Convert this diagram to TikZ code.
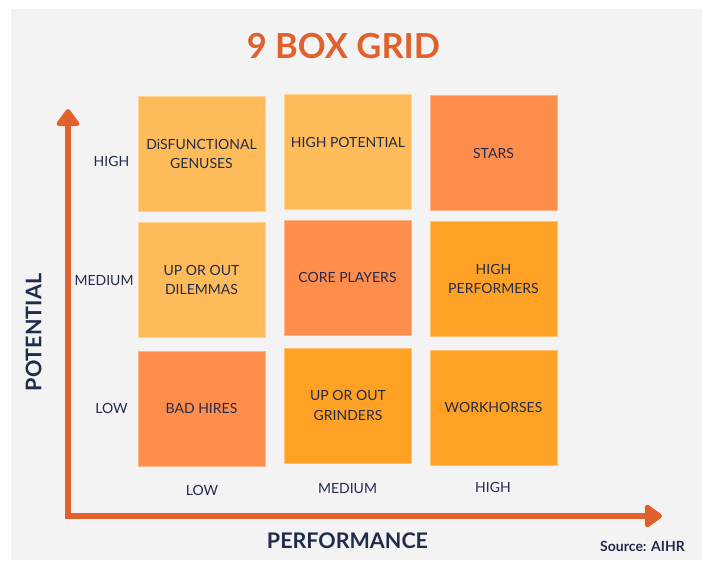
\documentclass[tikz,border=0pt]{standalone}
\usepackage{fontspec}
\setmainfont{Lato}
\usetikzlibrary{arrows.meta}
\definecolor{bggray}{HTML}{F3F3F3}
\definecolor{axisred}{HTML}{E0612D}
\definecolor{navy}{HTML}{222B4B}
\definecolor{lightor}{HTML}{FEBB5A}
\definecolor{salmon}{HTML}{FF8D4B}
\definecolor{amber}{HTML}{FFA125}
\begin{document}
\begin{tikzpicture}[x=1pt,y=-1pt,
  cell/.style={fill=#1, draw=#1!65!white, line width=0.8pt, minimum width=127pt, minimum height=115pt,
    inner sep=0pt, align=center, text=navy, font=\fontsize{14}{19.5}\selectfont},
  axislabel/.style={text=navy, font=\fontsize{14}{16}\selectfont, inner sep=0pt},
  axistitle/.style={text=navy, font=\fontsize{21.5}{24}\selectfont\bfseries, inner sep=0pt},
  axisline/.style={draw=axisred, line width=6.5pt, line join=miter,
    {Triangle[width=26pt,length=19pt,round]}-{Triangle[width=26pt,length=19pt,round]}}
]
\useasboundingbox (0,0) rectangle (702,560);
\fill[white] (0,0) rectangle (702,560);
\fill[bggray] (11,9) rectangle (702,560);

% title
\node[text=axisred, font=\fontsize{34.5}{38}\selectfont\bfseries, inner sep=0pt] (title) at (343.5,46) {9 BOX GRID};

% cells
\node[cell=lightor] (c11) at (201.5,154) {DiSFUNCTIONAL\\GENUSES};
\node[cell=lightor, text depth=19pt] (c12) at (348,151.5) {HIGH POTENTIAL};
\node[cell=salmon] (c13) at (493.5,153) {STARS};
\node[cell=lightor] (c21) at (201.5,280) {UP OR OUT\\DILEMMAS};
\node[cell=salmon] (c22) at (347.5,277.5) {CORE PLAYERS};
\node[cell=amber] (c23) at (493.5,279) {HIGH\\PERFORMERS};
\node[cell=salmon] (c31) at (201.5,408.5) {BAD HIRES};
\node[cell=amber] (c32) at (348,405.5) {UP OR OUT\\GRINDERS};
\node[cell=amber] (c33) at (493.5,407.5) {WORKHORSES};

% axis level labels
\node[axislabel] (yhigh) at (111.5,161) {HIGH};
\node[axislabel] (ymed) at (104,280.5) {MEDIUM};
\node[axislabel] (ylow) at (111.5,408.5) {LOW};
\node[axislabel] (xlow) at (202,490) {LOW};
\node[axislabel] (xmed) at (347.5,488.5) {MEDIUM};
\node[axislabel] (xhigh) at (493,487.5) {HIGH};

% axes
\coordinate (ytip) at (68,109);
\coordinate (origin) at (68,516);
\coordinate (xtip) at (662,516);
\draw[axisline] (ytip) -- (origin) -- (xtip);

\node[axistitle, rotate=90] (potential) at (33.5,332.5) {POTENTIAL};
\node[axistitle] (performance) at (347.5,540.5) {PERFORMANCE};
\node[text=navy, font=\fontsize{14}{16}\selectfont\bfseries, inner sep=0pt] (source) at (642.5,546) {Source: AIHR};
\end{tikzpicture}
\end{document}
